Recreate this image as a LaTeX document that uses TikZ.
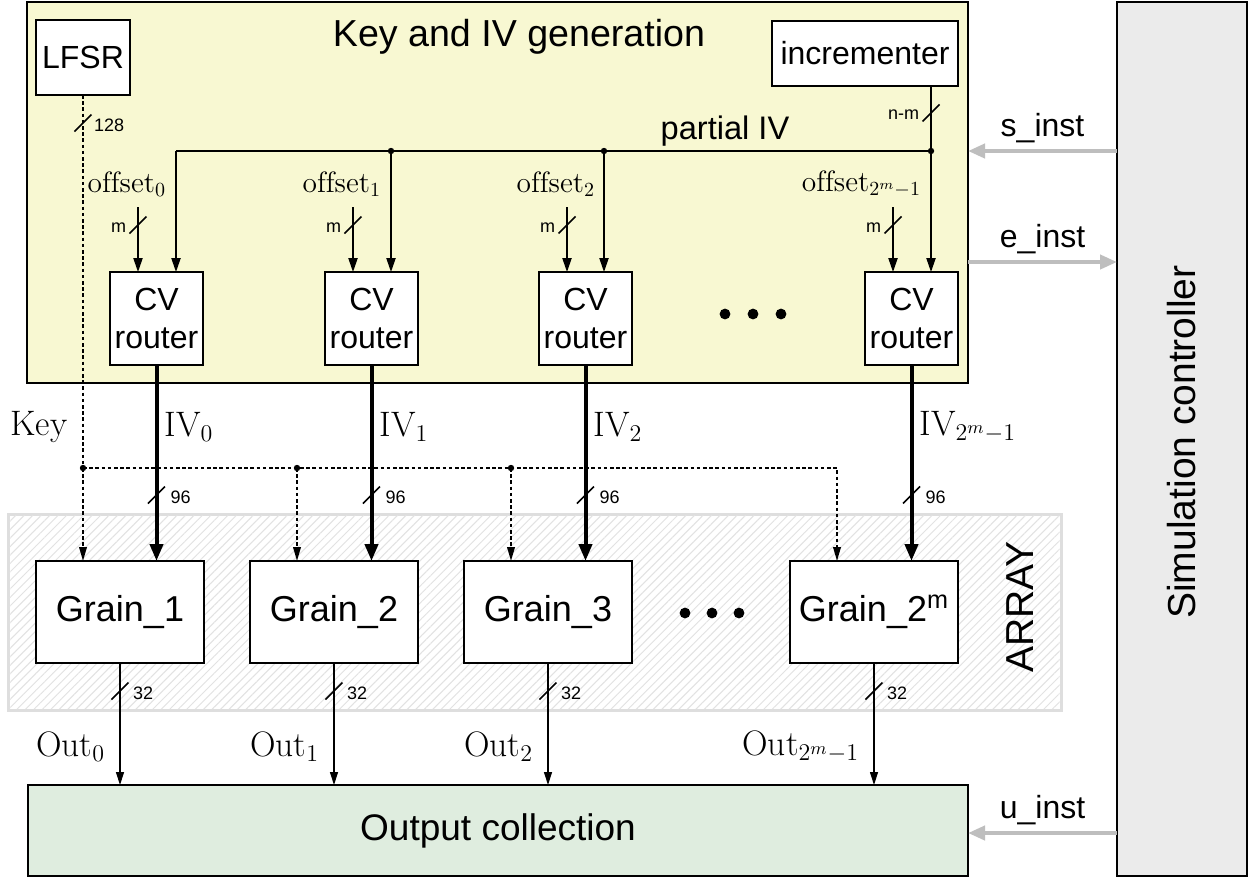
\documentclass[tikz,border=0pt]{standalone}
\usepackage{fontspec}
\newfontfamily\arial{Liberation Sans}
\usetikzlibrary{arrows.meta,patterns.meta,calc}
\definecolor{genfill}{HTML}{F8F8D2}
\definecolor{simfill}{HTML}{EBEBEB}
\definecolor{outfill}{HTML}{DFEDDF}
\definecolor{arrborder}{HTML}{DEDEDE}
\definecolor{hatch}{HTML}{E2E2E2}
\definecolor{ctrl}{HTML}{BEBEBE}
\newcommand{\busslash}[1]{\draw[slashline] ($(#1)+(-8.5,8.5)$) -- ($(#1)+(8.5,-8.5)$);}
\begin{document}
\begin{tikzpicture}[x=0.5pt,y=-0.5pt,
  every node/.style={inner sep=0pt, outer sep=0pt},
  blk/.style={draw, line width=0.8pt, fill=white, align=center, font=\arial\fontsize{16}{19}\selectfont},
  grain/.style={blk, minimum width=84pt, minimum height=51pt, font=\arial\fontsize{18}{21}\selectfont},
  router/.style={blk, minimum width=46.5pt, minimum height=46.5pt},
  wire/.style={line width=0.8pt},
  arr/.style={wire, -{Triangle[length=7pt,width=4.6pt]}},
  ivarr/.style={line width=2pt, -{Triangle[length=8.5pt,width=6.5pt]}},
  keyline/.style={line width=0.9pt, dash pattern=on 1.8pt off 1.3pt},
  keyarr/.style={keyline, -{Triangle[length=7pt,width=3.8pt]}},
  outarr/.style={line width=0.6pt, -{Triangle[length=6.5pt,width=4pt]}},
  ctrlarr/.style={draw=ctrl, line width=2pt, -{Triangle[length=8.5pt,width=7pt]}},
  slashline/.style={line width=0.8pt},
  small/.style={font=\arial\fontsize{9}{10}\selectfont},
  big/.style={font=\arial\fontsize{18.5}{21}\selectfont},
  mid/.style={font=\arial\fontsize{16}{19}\selectfont},
  offlab/.style={font=\fontsize{14.7}{17}\selectfont},
  mathlab/.style={font=\fontsize{17.7}{20}\selectfont}
]
\fill[white] (0,0) rectangle (1256,879);
\useasboundingbox (0,0) rectangle (1256,879);

% containers
\node[draw, line width=0.8pt, fill=genfill, minimum width=470.5pt, minimum height=190.5pt] (gen) at (497.5,192.5) {};
\node[font=\arial\fontsize{18.8}{22}\selectfont] (title) at (519,37) {Key and IV generation};
\node[draw=arrborder, line width=1.5pt, fill=white, minimum width=526.5pt, minimum height=98pt] (arr) at (534.5,612) {};
\fill[pattern={Lines[angle=45,distance=3pt,line width=0.5pt]}, pattern color=hatch]
  ($(arr.south west)+(1.5,-1.5)$) rectangle ($(arr.north east)+(-1.5,1.5)$);
\node[font=\arial\fontsize{19.5}{22}\selectfont, rotate=90] (arrlab) at (1020,607) {ARRAY};
\node[draw, line width=0.8pt, fill=simfill, minimum width=65pt, minimum height=437pt] (sim) at (1182,439) {};
\node[font=\arial\fontsize{19.5}{22}\selectfont, rotate=90] (simlab) at (1182,442) {Simulation controller};
\node[draw, line width=0.8pt, fill=outfill, minimum width=470pt, minimum height=45.5pt, big] (out) at (498,830.5) {Output collection};

% blocks
\node[blk, minimum width=47pt, minimum height=37.5pt] (lfsr) at (83,57.5) {LFSR};
\node[blk, minimum width=93pt, minimum height=32.5pt] (inc) at (865,53.5) {incrementer};
\foreach \i/\x in {1/156.5,2/371.5,3/585.5,4/911.5}
  \node[router] (r\i) at (\x,318.5) {CV\\router};
\node[grain] (g1) at (120,612) {Grain\_1};
\node[grain] (g2) at (334,612) {Grain\_2};
\node[grain] (g3) at (548,612) {Grain\_3};
\node[grain] (g4) at (874,612) {Grain\_2\textsuperscript{m}};

% ellipsis dots
\foreach \x in {725,753,781} \fill (\x,314) circle (2.7pt);
\foreach \x in {685,712,739} \fill (\x,613) circle (2.7pt);

% partial IV bus
\coordinate (j1) at (176,151);
\coordinate (j2) at (391,151);
\coordinate (j3) at (604,151);
\coordinate (j4) at (931,151);
\draw[wire] (inc.south -| j4) -- (j4);
\coordinate (snm) at (931,113);
\busslash{snm}
\node[small, anchor=east] (nmlab) at (919,115) {n-m};
\draw[wire] (j1) -- (j4);
\node[font=\arial\fontsize{16.3}{19}\selectfont] (plab) at (725,131) {partial IV};
\foreach \i in {1,2,3,4} \draw[arr] (j\i) -- (j\i |- r\i.north);
\foreach \i in {2,3,4} \fill (j\i) circle (1.6pt);

% offsets
\coordinate (o1) at (138,207);
\coordinate (o2) at (353,207);
\coordinate (o3) at (567,207);
\coordinate (o4) at (893,207);
\foreach \i/\s in {1/0,2/1,3/2,4/{2^m-1}} {
  \draw[arr] (o\i) -- (o\i |- r\i.north);
  \coordinate (ms\i) at ($(o\i)+(0,18)$);
  \busslash{ms\i}
  \node[small, anchor=east] (ml\i) at ($(o\i)+(-12,21)$) {m};
  \node[offlab, anchor=east] (ol\i) at ($(o\i)+(28,-23)$) {$\mathrm{offset}_{\s}$};
}

% IV buses
\foreach \i/\s in {1/0,2/1,3/2,4/{2^m-1}} {
  \draw[ivarr] (r\i.south) -- (r\i.south |- g\i.north);
  \coordinate (ivs\i) at ($(r\i.south)+(0,130)$);
  \busslash{ivs\i}
  \node[small, anchor=west] (ivw\i) at ($(ivs\i)+(14,2)$) {96};
  \node[mathlab, anchor=west] (ivl\i) at ($(r\i.south)+(8,62)$) {$\mathrm{IV}_{\s}$};
}

% key distribution
\coordinate (k0) at (83,468);
\coordinate (k2) at (297,468);
\coordinate (k3) at (511,468);
\coordinate (k4) at (837,468);
\draw[keyline] (lfsr.south) -- (k0);
\coordinate (s128) at (83,123);
\busslash{s128}
\node[small, anchor=west] (l128) at (94,125) {128};
\draw[keyarr] (k0) -- (k0 |- g1.north);
\draw[keyarr] (k0) -- (k4) -- (k4 |- g4.north);
\draw[keyarr] (k2) -- (k2 |- g2.north);
\draw[keyarr] (k3) -- (k3 |- g3.north);
\foreach \k in {k0,k2,k3} \fill (\k) circle (1.6pt);
\node[mathlab] (keylab) at (39,427) {$\mathrm{Key}$};

% outputs
\foreach \i/\s in {1/0,2/1,3/2,4/{2^m-1}} {
  \draw[outarr] (g\i.south) -- (g\i.south |- out.north);
  \coordinate (os\i) at ($(g\i.south)+(0,28)$);
  \busslash{os\i}
  \node[small, anchor=west] (ow\i) at ($(os\i)+(13,2)$) {32};
  \node[mathlab, anchor=east] (outl\i) at ($(g\i.south)+(-15,84)$) {$\mathrm{Out}_{\s}$};
}

% control signals
\coordinate (sy) at (0,151);
\coordinate (ey) at (0,262);
\coordinate (uy) at (0,833);
\draw[ctrlarr] (sim.west |- sy) -- node[mid, above=4pt] (slab) {s\_inst} (gen.east |- sy);
\draw[ctrlarr] (gen.east |- ey) -- node[mid, above=4pt] (elab) {e\_inst} (sim.west |- ey);
\draw[ctrlarr] (sim.west |- uy) -- node[mid, above=4pt] (ulab) {u\_inst} (out.east |- uy);
\end{tikzpicture}
\end{document}
